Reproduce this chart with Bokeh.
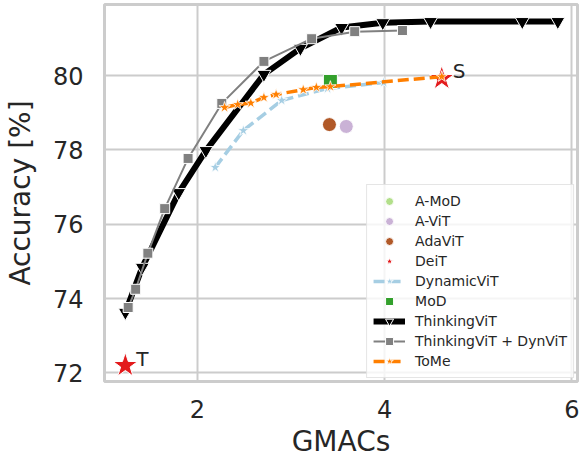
from bokeh.plotting import figure
from bokeh.models import Range1d, FixedTicker
from bokeh.core.properties import value
from bokeh.embed import file_html
from bokeh.resources import INLINE

# ---- data ----
thinkingvit_gmacs = [1.23, 1.41, 1.80, 2.09, 2.71, 3.10, 3.54, 3.98, 4.49, 5.47, 5.85]
thinkingvit_acc = [73.63, 74.84, 76.85, 77.98, 80.03, 80.73, 81.29, 81.42, 81.45, 81.45, 81.45]

tv_dyn_gmacs = [1.26, 1.34, 1.47, 1.65, 1.90, 2.26, 2.71, 3.22, 3.68, 4.19]
tv_dyn_acc = [73.76, 74.25, 75.22, 76.42, 77.77, 79.25, 80.38, 80.99, 81.18, 81.21]

dynamicvit_gmacs = [2.19, 2.49, 2.90, 3.39, 3.99]
dynamicvit_acc = [77.53, 78.52, 79.33, 79.65, 79.81]

tome_gmacs = [2.29, 2.43, 2.57, 2.71, 2.84, 3.13, 3.27, 3.42, 4.61]
tome_acc = [79.14, 79.22, 79.26, 79.41, 79.49, 79.62, 79.68, 79.70, 79.97]

deit_gmacs = [1.23, 4.61]
deit_acc = [72.20, 79.92]
deit_labels = ["T", "S"]

mod_gmacs = [3.42]
mod_acc = [79.84]
adavit_gmacs = [3.41]
adavit_acc = [78.68]
avit_gmacs = [3.59]
avit_acc = [78.63]
amod_gmacs = [3.42]
amod_acc = [79.84]

x_ticks = [2, 4, 6]
y_ticks = [72, 74, 76, 78, 80]

FONT = "DejaVu Sans"
TXT = "#262626"
GRID = "#cccccc"

p = figure(width=579, height=465,
           x_range=Range1d(1.007, 6.06), y_range=Range1d(71.77, 81.91),
           output_backend="svg", toolbar_location=None,
           min_border_left=104, min_border_right=2, min_border_top=4, min_border_bottom=84)

p.background_fill_color = "white"
p.border_fill_color = "white"
p.outline_line_color = GRID
p.outline_line_width = 3

p.xaxis.ticker = FixedTicker(ticks=x_ticks)
p.yaxis.ticker = FixedTicker(ticks=y_ticks)
for ax in (p.xaxis, p.yaxis):
    ax.axis_line_color = None
    ax.major_tick_line_color = None
    ax.minor_tick_line_color = None
    ax.major_tick_out = 0
    ax.major_tick_in = 0
    ax.major_label_text_font = FONT
    ax.major_label_text_font_size = "24px"
    ax.major_label_text_color = TXT
    ax.axis_label_text_font = FONT
    ax.axis_label_text_font_size = "28px"
    ax.axis_label_text_font_style = "normal"
    ax.axis_label_text_color = TXT
p.xaxis.axis_label = "GMACs"
p.yaxis.axis_label = "Accuracy [%]"
p.xaxis.major_label_standoff = 18
p.yaxis.major_label_standoff = 21
p.xaxis.axis_label_standoff = 4
p.yaxis.axis_label_standoff = 13

p.xgrid.grid_line_color = GRID
p.ygrid.grid_line_color = GRID
p.xgrid.grid_line_width = 2
p.ygrid.grid_line_width = 2

# A-MoD (hidden behind the MoD marker)
p.scatter(amod_gmacs, amod_acc, marker="circle", size=11, fill_color="#b2df8a",
          line_color="white", line_width=1, legend_label="A-MoD")
# A-ViT
p.scatter(avit_gmacs, avit_acc, marker="circle", size=14, fill_color="#cab2d6",
          line_color="white", line_width=1, legend_label="A-ViT")
# AdaViT
p.scatter(adavit_gmacs, adavit_acc, marker="circle", size=14, fill_color="#b15928",
          line_color="white", line_width=1, legend_label="AdaViT")
# DeiT
p.scatter(deit_gmacs, deit_acc, marker="star", size=26, fill_color="#e31a1c",
          line_color="white", line_width=1, legend_label="DeiT")
p.text(deit_gmacs, deit_acc, text=deit_labels, x_offset=11, y_offset=-7,
       text_baseline="middle", text_align="left", text_font=value(FONT),
       text_font_size="20px", text_color=TXT)
# DynamicViT
p.line(dynamicvit_gmacs, dynamicvit_acc, line_color="#a6cee3", line_width=3.5,
       line_dash="11 5", legend_label="DynamicViT")
p.scatter(dynamicvit_gmacs, dynamicvit_acc, marker="star", size=12, fill_color="#a6cee3",
          line_color="white", line_width=0.8, legend_label="DynamicViT")
# MoD
p.scatter(mod_gmacs, mod_acc, marker="square", size=14, fill_color="#33a02c",
          line_color="white", line_width=1, legend_label="MoD")
# ThinkingViT
p.line(thinkingvit_gmacs, thinkingvit_acc, line_color="black", line_width=6,
       legend_label="ThinkingViT")
p.scatter(thinkingvit_gmacs, thinkingvit_acc, marker="inverted_triangle", size=14,
          fill_color="black", line_color="white", line_width=1, legend_label="ThinkingViT")
# ThinkingViT + DynViT
p.line(tv_dyn_gmacs, tv_dyn_acc, line_color="#808080", line_width=2,
       legend_label="ThinkingViT + DynViT")
p.scatter(tv_dyn_gmacs, tv_dyn_acc, marker="square", size=10, fill_color="#808080",
          line_color="white", line_width=1, legend_label="ThinkingViT + DynViT")
# ToMe
p.line(tome_gmacs, tome_acc, line_color="#ff7f00", line_width=3.5,
       line_dash="11 5", legend_label="ToMe")
p.scatter(tome_gmacs, tome_acc, marker="star", size=12, fill_color="#ff7f00",
          line_color="white", line_width=0.8, legend_label="ToMe")

lg = p.legend[0]
lg.location = "bottom_right"
lg.margin = 3
lg.padding = 6
lg.spacing = 0
lg.glyph_width = 32
lg.glyph_height = 20
lg.label_height = 20
lg.label_standoff = 10
lg.label_text_font = FONT
lg.label_text_font_size = "14px"
lg.label_text_color = TXT
lg.border_line_color = GRID
lg.border_line_width = 1.5
lg.background_fill_color = "white"
lg.background_fill_alpha = 0.8

open("out.html", "w").write(file_html(p, INLINE))
